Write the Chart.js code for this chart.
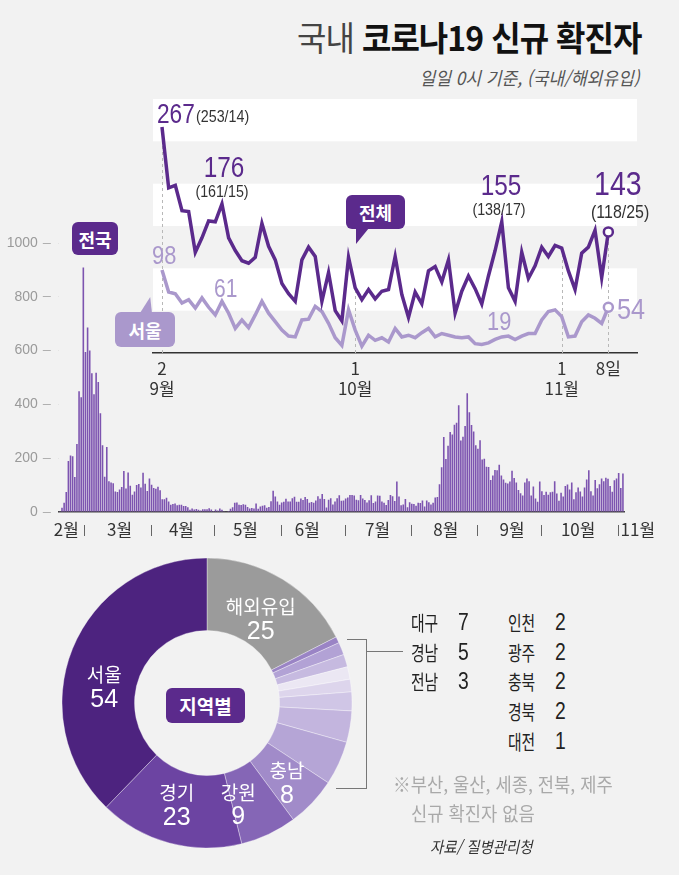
<!DOCTYPE html>
<html lang="ko">
<head>
<meta charset="utf-8">
<title>국내 코로나19 신규 확진자</title>
<script src="https://cdn.jsdelivr.net/npm/chart.js@4.4.1/dist/chart.umd.min.js"></script>
<style>
  html, body { margin: 0; padding: 0; }
  body {
    width: 679px; height: 875px; position: relative; overflow: hidden;
    background: #f2f2f2; color: #222;
    font-family: "Noto Sans CJK KR", "Noto Sans", sans-serif;
  }
  canvas { position: absolute; }
  .t { position: absolute; white-space: nowrap; line-height: 1; }
  .num { font-family: "Liberation Sans", Arial, sans-serif; transform: scaleX(0.84); transform-origin: left center; }
  .num.c { transform: translateX(-50%) scaleX(0.84); transform-origin: center center; }
  .box {
    position: absolute; border-radius: 6px; color: #fff; font-weight: bold;
    font-size: 18px; line-height: 1; display: flex; align-items: center; justify-content: center;
  }
  .tail { position: absolute; }
  .dark { background: #5b2a8c; }
  .light { background: #aa98cc; }
  .line { position: absolute; background: #777; }
  .legend .t { font-size: 20px; color: #222; }
  .legend .n { font-size: 23px; }
</style>
</head>
<body>

<!-- 제목 -->
<div class="t" style="right:38px; top:20px; font-size:34px; transform:scaleX(0.94); transform-origin:right center; letter-spacing:-1px;">
  <span style="color:#444;">국내</span> <span style="font-weight:bold; color:#111;">코로나19 신규 확진자</span>
</div>
<div class="t" style="right:39px; top:68px; font-size:18px; font-style:italic; color:#555; transform:scaleX(0.95); transform-origin:right center;">일일 0시 기준, (국내/해외유입)</div>

<canvas id="barChart" width="679" height="325" style="left:0; top:225px;"></canvas>
<canvas id="insetChart" width="510" height="320" style="left:140px; top:90px;"></canvas>
<canvas id="donutChart" width="310" height="310" style="left:52px; top:548px;"></canvas>

<!-- 전체 곡선 주석 -->
<div class="t num" style="left:157px; top:101px; font-size:27px; color:#5b2a8c;">267</div>
<div class="t num" style="left:196px; top:108px; font-size:17px; color:#333;">(253/14)</div>
<div class="t num c" style="left:224px; top:153px; font-size:29px; color:#5b2a8c;">176</div>
<div class="t num c" style="left:222px; top:183px; font-size:17px; color:#333;">(161/15)</div>
<div class="t num c" style="left:501px; top:171px; font-size:29px; color:#5b2a8c;">155</div>
<div class="t num c" style="left:499px; top:201px; font-size:17px; color:#333;">(138/17)</div>
<div class="t num" style="left:594px; top:166px; font-size:34px; color:#5b2a8c;">143</div>
<div class="t num" style="left:591px; top:202px; font-size:19px; color:#333;">(118/25)</div>

<!-- 서울 곡선 주석 -->
<div class="t num" style="left:152px; top:242px; font-size:26px; color:#aa98cc;">98</div>
<div class="t num" style="left:214px; top:276px; font-size:25px; color:#aa98cc;">61</div>
<div class="t num" style="left:487px; top:308px; font-size:26px; color:#aa98cc;">19</div>
<div class="t num" style="left:617px; top:294px; font-size:30px; color:#aa98cc;">54</div>

<!-- 말풍선 -->
<div class="box dark" style="left:346px; top:195px; width:59px; height:34px;">전체</div>
<div class="tail dark" style="left:356px; top:228px; width:13px; height:16px; clip-path:polygon(0 0, 100% 0, 0 100%);"></div>
<div class="box light" style="left:115px; top:312px; width:60px; height:35px;">서울</div>
<div class="tail light" style="left:140px; top:297px; width:12px; height:16px; clip-path:polygon(0 100%, 100% 100%, 85% 0);"></div>
<div class="box dark" style="left:72px; top:222px; width:46px; height:33px;">전국</div>

<!-- 지역별 -->
<div class="box dark" style="left:166px; top:688px; width:79px; height:35px; font-size:19px;">지역별</div>
<div class="line" style="left:347px; top:639px; width:20px; height:1px;"></div>
<div class="line" style="left:336px; top:788px; width:31px; height:1px;"></div>
<div class="line" style="left:366px; top:639px; width:1px; height:150px;"></div>
<div class="line" style="left:366px; top:651px; width:37px; height:1px;"></div>
<div class="legend" id="legend"></div>

<div class="t" style="left:393px; top:774px; font-size:19px; color:#a9a9a9; transform:scaleX(0.93); transform-origin:left center;">※부산, 울산, 세종, 전북, 제주</div>
<div class="t" style="left:411px; top:803px; font-size:19px; color:#a9a9a9; transform:scaleX(0.93); transform-origin:left center;">신규 확진자 없음</div>
<div class="t" style="left:430px; top:838px; font-size:16px; font-style:italic; color:#333; transform:scaleX(0.9); transform-origin:left center;">자료/ 질병관리청</div>

<script>
// 전국 일별 신규 확진자 (0시 기준), 2/18 ~ 11/8
const casesFeb = [1, 16, 34, 74, 190, 210, 207, 130, 253, 449, 427, 909];
const casesMar = [595, 686, 600, 516, 438, 518, 483, 367, 248, 131, 242, 114, 110, 107, 76, 74,
                  84, 93, 152, 87, 147, 98, 64, 76, 100, 104, 91, 146, 105, 78, 125];
const casesApr = [101, 89, 86, 94, 81, 47, 47, 53, 39, 27, 30, 32, 25, 27, 27, 22, 22, 18, 8, 13,
                  9, 11, 8, 6, 10, 10, 10, 14, 9, 4];
const casesMay = [9, 6, 13, 8, 3, 2, 4, 12, 18, 34, 35, 27, 26, 29, 27, 19, 13, 15, 13, 32, 12,
                  20, 23, 25, 16, 19, 40, 79, 58, 39, 27];
const casesJun = [35, 38, 49, 39, 39, 51, 57, 38, 38, 50, 45, 56, 48, 34, 37, 34, 43, 59, 49, 67,
                  48, 17, 46, 51, 28, 39, 51, 62, 42, 43];
const casesJul = [50, 54, 63, 63, 61, 46, 44, 63, 50, 45, 35, 44, 62, 33, 39, 61, 60, 39, 34, 26,
                  45, 63, 59, 41, 113, 58, 25, 28, 48, 18, 36];
const casesAug = [31, 30, 23, 34, 33, 43, 20, 43, 36, 28, 34, 54, 56, 103, 166, 279, 197, 246, 297,
                  288, 324, 332, 397, 266, 280, 320, 441, 371, 323, 299, 248];
const casesSep = [235, 267, 195, 198, 168, 167, 119, 136, 156, 155, 176, 136, 121, 109, 106, 113,
                  153, 126, 110, 82, 70, 61, 110, 125, 114, 61, 95, 50, 38, 113];
const casesOct = [77, 63, 75, 64, 73, 75, 114, 69, 42, 72, 58, 97, 102, 84, 110, 47, 73, 91, 76, 58,
                  91, 121, 155, 77, 61, 119, 88, 103, 125, 114, 127];
const casesNov = [124, 97, 75, 118, 125, 145, 89, 143];

// 서울 일별 신규 확진자, 9/2 ~ 11/8
const seoulSep = [98, 72, 70, 59, 63, 53, 65, 54, 45, 61, 47, 29, 39, 30, 45, 61, 47, 37, 27, 20,
                  19, 39, 40, 55, 49, 35, 18, 9, 51];
const seoulOct = [27, 8, 21, 15, 18, 13, 29, 19, 21, 18, 24, 29, 19, 23, 21, 19, 18, 19, 11, 10,
                  12, 16, 19, 20, 16, 20, 23, 23, 39, 49, 51];
const seoulNov = [43, 19, 20, 37, 45, 41, 35, 54];

// 지역별 (11/8 0시 기준)
const regionNames = ['해외유입', '대전', '경북', '충북', '광주', '인천', '전남', '경남', '대구', '충남', '강원', '경기', '서울'];
const regionCounts = [25, 1, 2, 2, 2, 2, 3, 5, 7, 8, 9, 23, 54];
const legendCol1 = ['대구', '경남', '전남'];
const legendCol2 = ['인천', '광주', '충북', '경북', '대전'];

// 축 라벨
const startDate = '2020-02-18';
const monthNames = ['2월', '3월', '4월', '5월', '6월', '7월', '8월', '9월', '10월', '11월'];
const monthLabelDates = ['2020-02-21', '2020-03-17', '2020-04-15', '2020-05-15', '2020-06-13',
                         '2020-07-16', '2020-08-17', '2020-09-17', '2020-10-18', '2020-11-15'];
const monthSepDates = ['2020-03-01', '2020-04-01', '2020-05-01', '2020-06-01', '2020-07-01',
                       '2020-08-01', '2020-09-01', '2020-10-01', '2020-11-06'];
const insetTickIdx = [0, 29, 60, 67];
const insetTickLabels = [['2', '9월'], ['1', '10월'], ['1', '11월'], ['8일']];
const insetBands = [[50, 100], [150, 200], [250, 300]];

const dailyCases = [].concat(casesFeb, casesMar, casesApr, casesMay, casesJun, casesJul,
                             casesAug, casesSep, casesOct, casesNov);
const insetTotal = casesSep.slice(1).concat(casesOct, casesNov);
const insetSeoul = [].concat(seoulSep, seoulOct, seoulNov);

const DARK = '#5b2a8c';
const LIGHT = '#aa98cc';
const regionColors = ['#9b9b9b', '#9a84c5', '#b2a2d5', '#c6bae0', '#ebe7f3', '#ddd5ec', '#d0c6e6',
                      '#c3b5de', '#b5a5d6', '#a18bc9', '#8566b6', '#6c44a2', '#4d237f'];

function dayIndex(iso) {
    return Math.round((Date.parse(iso) - Date.parse(startDate)) / 864e5);
}

const dailyLabels = dailyCases.map((_, i) => {
    const d = new Date(Date.parse(startDate) + i * 864e5);
    return (d.getUTCMonth() + 1) + '/' + d.getUTCDate();
});

Chart.defaults.font.family = '"Noto Sans CJK KR", "Liberation Sans", sans-serif';
Chart.defaults.animation = false;

// 월 라벨과 구분선
const monthAxisPlugin = {
    id: 'monthAxis',
    afterDraw(chart) {
        const { ctx, chartArea } = chart;
        const x = chart.scales.x;
        const base = chartArea.bottom;
        ctx.save();
        ctx.fillStyle = '#333';
        ctx.font = '17px "Noto Sans CJK KR"';
        ctx.textAlign = 'center';
        ctx.textBaseline = 'middle';
        monthNames.forEach((m, k) => {
            ctx.fillText(m, x.getPixelForValue(dayIndex(monthLabelDates[k])), base + 18);
        });
        ctx.strokeStyle = '#666';
        ctx.lineWidth = 1;
        monthSepDates.forEach(d => {
            const px = Math.round(x.getPixelForValue(dayIndex(d) - 0.5)) + 0.5;
            ctx.beginPath();
            ctx.moveTo(px, base + 13);
            ctx.lineTo(px, base + 24);
            ctx.stroke();
        });
        ctx.restore();
    }
};

new Chart(document.getElementById('barChart'), {
    type: 'bar',
    data: {
        labels: dailyLabels,
        datasets: [{
            data: dailyCases,
            backgroundColor: '#7d54b0',
            barPercentage: 0.75,
            categoryPercentage: 1
        }]
    },
    options: {
        responsive: false,
        layout: { padding: { left: 0, right: 55, top: 18, bottom: 0 } },
        plugins: { legend: { display: false }, tooltip: { enabled: false } },
        scales: {
            x: {
                ticks: { display: false },
                grid: { display: false },
                border: { display: true, color: '#444', width: 1.5 },
                afterFit: s => { s.height = 38; }
            },
            y: {
                min: 0,
                max: 1000,
                ticks: {
                    stepSize: 200,
                    color: '#9a9a9a',
                    padding: 5,
                    font: { family: '"Liberation Sans", Arial', size: 14 },
                    callback: v => String(v)
                },
                grid: {
                    drawOnChartArea: false,
                    drawTicks: true,
                    tickLength: 16,
                    tickColor: '#b0b0b0',
                    tickBorderDash: [8, 8]
                },
                border: { display: false },
                afterFit: s => { s.width = 58.8; }
            }
        }
    },
    plugins: [monthAxisPlugin]
});

// 흰 띠 배경과 점선
const insetBackPlugin = {
    id: 'insetBack',
    beforeDatasetsDraw(chart) {
        const { ctx, chartArea } = chart;
        const { x, y } = chart.scales;
        ctx.save();
        ctx.fillStyle = '#ffffff';
        insetBands.forEach(([lo, hi]) => {
            const top = y.getPixelForValue(hi);
            ctx.fillRect(chartArea.left, top, chartArea.right - chartArea.left, y.getPixelForValue(lo) - top);
        });
        ctx.strokeStyle = '#b8b8b8';
        ctx.lineWidth = 1;
        ctx.setLineDash([3, 3]);
        insetTickIdx.forEach(i => {
            const px = Math.round(x.getPixelForValue(i)) + 0.5;
            ctx.beginPath();
            ctx.moveTo(px, chartArea.bottom);
            ctx.lineTo(px, y.getPixelForValue(Math.max(insetTotal[i], insetSeoul[i])));
            ctx.stroke();
        });
        ctx.restore();
    }
};

const lastIdx = insetTotal.length - 1;
const endPoint = ctx => (ctx.dataIndex === lastIdx ? 4.5 : 0);

new Chart(document.getElementById('insetChart'), {
    type: 'line',
    data: {
        datasets: [{
            label: '전체',
            data: insetTotal.map((v, i) => ({ x: i, y: v })),
            borderColor: DARK,
            borderWidth: 3.5,
            pointRadius: endPoint,
            pointBackgroundColor: '#fff',
            pointBorderColor: DARK,
            pointBorderWidth: 2.5
        }, {
            label: '서울',
            data: insetSeoul.map((v, i) => ({ x: i, y: v })),
            borderColor: LIGHT,
            borderWidth: 3.5,
            pointRadius: endPoint,
            pointBackgroundColor: '#fff',
            pointBorderColor: LIGHT,
            pointBorderWidth: 2.5
        }]
    },
    options: {
        responsive: false,
        layout: { padding: { left: 13, right: 13, top: 9, bottom: 0 } },
        plugins: { legend: { display: false }, tooltip: { enabled: false } },
        scales: {
            x: {
                type: 'linear',
                min: -1.35,
                max: 71.3,
                afterBuildTicks: s => { s.ticks = insetTickIdx.map(v => ({ value: v })); },
                ticks: {
                    autoSkip: false,
                    maxRotation: 0,
                    padding: 5,
                    color: '#333',
                    font: { size: 17 },
                    callback: (v, i) => insetTickLabels[i]
                },
                grid: { display: false, drawTicks: false },
                border: { display: true, color: '#333', width: 1.5 },
                afterFit: s => { s.height = 57; }
            },
            y: { display: false, min: 0, max: 300 }
        }
    },
    plugins: [insetBackPlugin]
});

// 도넛 조각 라벨
const donutNudge = { '해외유입': [-3, 9], '충남': [1, 5], '강원': [-15, 3], '경기': [-2, -3], '서울': [-2, 25] };
const donutLabelPlugin = {
    id: 'donutLabels',
    afterDatasetsDraw(chart) {
        const { ctx } = chart;
        const meta = chart.getDatasetMeta(0);
        ctx.save();
        ctx.fillStyle = '#fff';
        ctx.textAlign = 'center';
        ctx.textBaseline = 'middle';
        meta.data.forEach((arc, i) => {
            const nudge = donutNudge[regionNames[i]];
            if (!nudge) return;
            const c = arc.getCenterPoint();
            const px = c.x + nudge[0];
            const py = c.y + nudge[1];
            ctx.font = '19px "Noto Sans CJK KR"';
            ctx.fillText(regionNames[i], px, py - 12);
            ctx.font = '25px "Liberation Sans"';
            ctx.fillText(String(regionCounts[i]), px, py + 13);
        });
        ctx.restore();
    }
};

new Chart(document.getElementById('donutChart'), {
    type: 'doughnut',
    data: {
        labels: regionNames,
        datasets: [{
            data: regionCounts,
            backgroundColor: regionColors,
            borderColor: 'rgba(255,255,255,0.35)',
            borderWidth: 1,
            hoverOffset: 0
        }]
    },
    options: {
        responsive: false,
        radius: 145,
        cutout: '50%',
        plugins: { legend: { display: false }, tooltip: { enabled: false } }
    },
    plugins: [donutLabelPlugin]
});

// 오른쪽 지역 목록
function buildLegend() {
    const legend = document.getElementById('legend');
    const rows = [[legendCol1, 411, 458], [legendCol2, 508, 555]];
    rows.forEach(([names, nameX, numX]) => {
        names.forEach((name, r) => {
            const top = 613 + r * 29.7;
            const count = regionCounts[regionNames.indexOf(name)];
            legend.insertAdjacentHTML('beforeend',
                `<div class="t" style="left:${nameX}px; top:${top}px; transform:scaleX(0.74); transform-origin:left center;">${name}</div>` +
                `<div class="t num n" style="left:${numX}px; top:${top - 2}px;">${count}</div>`);
        });
    });
}
buildLegend();
</script>
</body>
</html>
